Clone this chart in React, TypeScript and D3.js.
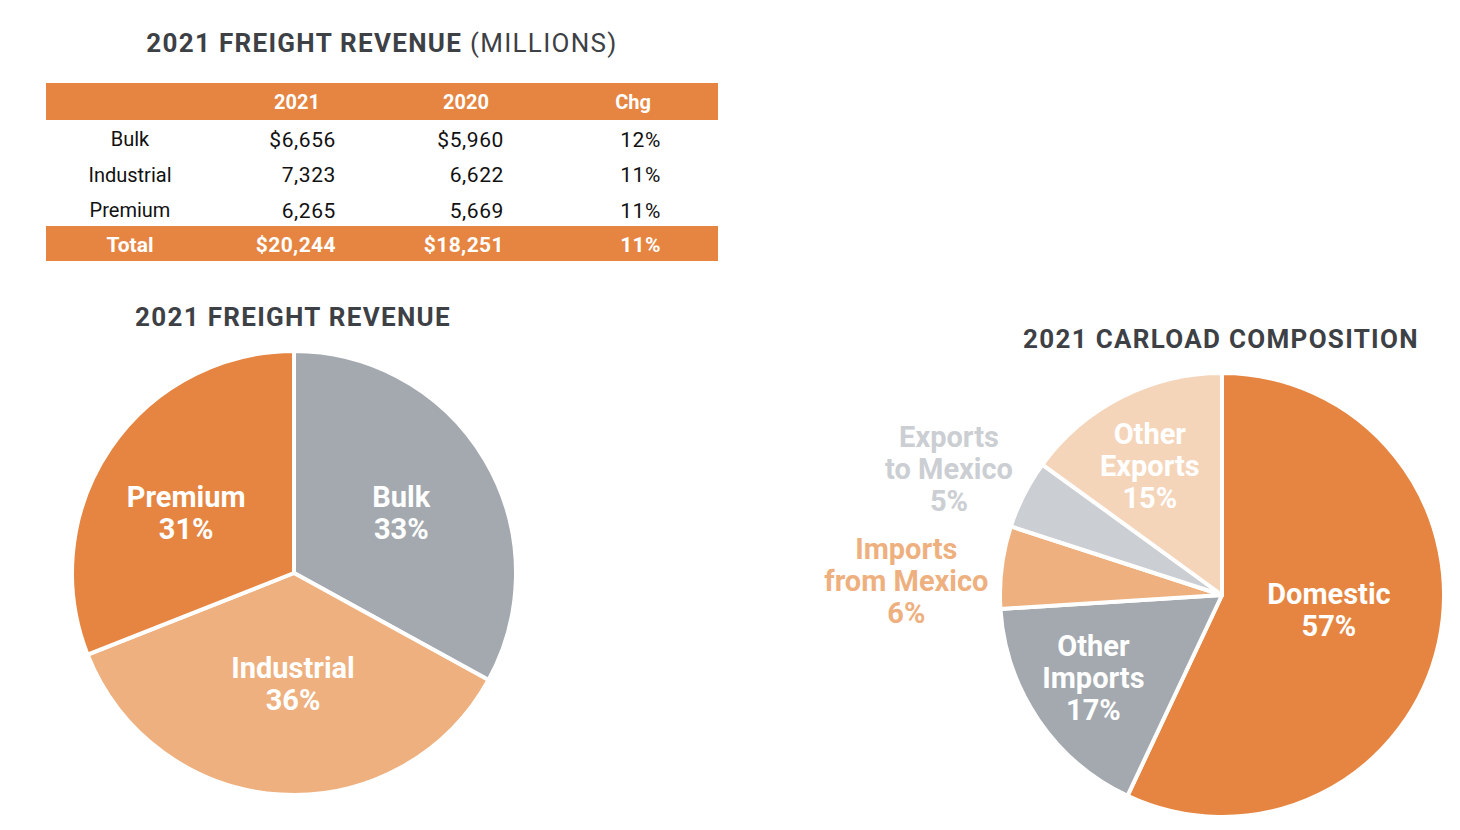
import React from "react";
import * as d3 from "d3";

const tableColumns = ["", "2021", "2020", "Chg"];
const tableRows = ["Bulk", "Industrial", "Premium"];
const rev2021 = ["$6,656", "7,323", "6,265"];
const rev2020 = ["$5,960", "6,622", "5,669"];
const revChg = ["12%", "11%", "11%"];
const totalRow = ["Total", "$20,244", "$18,251", "11%"];

const revCategories = ["Bulk", "Industrial", "Premium"];
const revShares = [33, 36, 31];
const revColors = ["#A3A9AF", "#EEB07F", "#E58541"];

const carCategories = [
  ["Domestic"],
  ["Other", "Imports"],
  ["Imports", "from Mexico"],
  ["Exports", "to Mexico"],
  ["Other", "Exports"],
];
const carShares = [57, 17, 6, 5, 15];
const carColors = ["#E58541", "#A3A9AF", "#EEB07F", "#CBCED2", "#F5D5BA"];

// label placement (style): outside labels take the slice colour
const carOutside = [false, false, true, true, false];
const carLabelR = [108, 153, 316, 301, 148];
const carLabelRot = [-4.6, 1.4, -4.5, -2.1, -2.2];
const revLabelR = [123, 111, 123.5];
const revLabelRot = [1.3, -3.1, -5];

const FONT = "Roboto, 'Helvetica Neue', Arial, sans-serif";
const ORANGE = "#E58541";
const TITLE = "#3D4045";

function Pie({ cx, cy, r, values, colors, labels, labelR, labelRot, outside }: any) {
  const pie = d3.pie<number>().sort(null).value((d) => d);
  const arcs = pie(values);
  const arc = d3.arc<any>().innerRadius(0).outerRadius(r);
  const lineH = 32;
  return (
    <g transform={`translate(${cx},${cy})`}>
      {arcs.map((a, i) => (
        <path key={i} d={arc(a) as string} fill={colors[i]} stroke="#fff" strokeWidth={4} strokeLinejoin="round" />
      ))}
      {arcs.map((a, i) => {
        const mid = (a.startAngle + a.endAngle) / 2 + (labelRot[i] * Math.PI) / 180;
        const lr = labelR[i];
        const x = Math.sin(mid) * lr;
        const y = -Math.cos(mid) * lr;
        const lines = [...labels[i], `${values[i]}%`];
        const y0 = y - ((lines.length - 1) * lineH) / 2;
        return (
          <text key={"t" + i} textAnchor="middle" fontFamily={FONT} fontWeight={700} fontSize={29}
            fill={outside && outside[i] ? colors[i] : "#fff"}>
            {lines.map((l: string, j: number) => (
              <tspan key={j} x={x} y={y0 + j * lineH} dy="0.36em">{l}</tspan>
            ))}
          </text>
        );
      })}
    </g>
  );
}

export default function App() {
  const colX = d3.scaleOrdinal<string, number>().domain(tableColumns).range([130, 297, 466, 633]);
  const colRight = [0, 336, 504, 661];
  const rowY = d3.scalePoint<string>().domain(tableRows).range([139, 210]);
  const tableLeft = 46, tableRight = 718;
  const cols = [rev2021, rev2020, revChg];

  return (
    <div style={{ position: "absolute", left: 0, top: 0 }}>
      <svg width={1460} height={830} style={{ display: "block", background: "#fff" }}>
        <text x={382} y={43} dy="0.36em" textAnchor="middle" fontFamily={FONT} fontSize={26} fill={TITLE} letterSpacing={1.3}>
          <tspan fontWeight={700}>2021 FREIGHT REVENUE </tspan>
          <tspan fontWeight={400}>(MILLIONS)</tspan>
        </text>

        <rect x={tableLeft} y={83} width={tableRight - tableLeft} height={37} fill={ORANGE} />
        {tableColumns.slice(1).map((c) => (
          <text key={c} x={colX(c)} y={102} dy="0.36em" textAnchor="middle" fontFamily={FONT} fontWeight={700} fontSize={20} fill="#fff">{c}</text>
        ))}
        {tableRows.map((r, i) => (
          <g key={r}>
            <text x={colX("")} y={rowY(r)} dy="0.36em" textAnchor="middle" fontFamily={FONT} fontSize={20} fill="#111">{r}</text>
            {cols.map((col, k) => (
              <text key={k} x={colRight[k + 1]} y={rowY(r)} dy="0.36em" textAnchor="end" fontFamily={FONT} fontSize={21} letterSpacing={0.6} fill="#111">{col[i]}</text>
            ))}
          </g>
        ))}
        <rect x={tableLeft} y={226} width={tableRight - tableLeft} height={35} fill={ORANGE} />
        <text x={colX("")} y={244} dy="0.36em" textAnchor="middle" fontFamily={FONT} fontWeight={700} fontSize={21} fill="#fff">{totalRow[0]}</text>
        {totalRow.slice(1).map((v, k) => (
          <text key={k} x={colRight[k + 1]} y={244} dy="0.36em" textAnchor="end" fontFamily={FONT} fontWeight={700} fontSize={21} letterSpacing={0.4} fill="#fff">{v}</text>
        ))}

        <text x={293} y={317} dy="0.36em" textAnchor="middle" fontFamily={FONT} fontWeight={700} fontSize={26} fill={TITLE} letterSpacing={1.3}>2021 FREIGHT REVENUE</text>
        <Pie cx={294} cy={573} r={222} values={revShares} colors={revColors}
          labels={revCategories.map((c) => [c])} labelR={revLabelR} labelRot={revLabelRot} />

        <text x={1221} y={339} dy="0.36em" textAnchor="middle" fontFamily={FONT} fontWeight={700} fontSize={26} fill={TITLE} letterSpacing={1.3}>2021 CARLOAD COMPOSITION</text>
        <Pie cx={1222} cy={595} r={222} values={carShares} colors={carColors}
          labels={carCategories} labelR={carLabelR} labelRot={carLabelRot} outside={carOutside} />
      </svg>
    </div>
  );
}
